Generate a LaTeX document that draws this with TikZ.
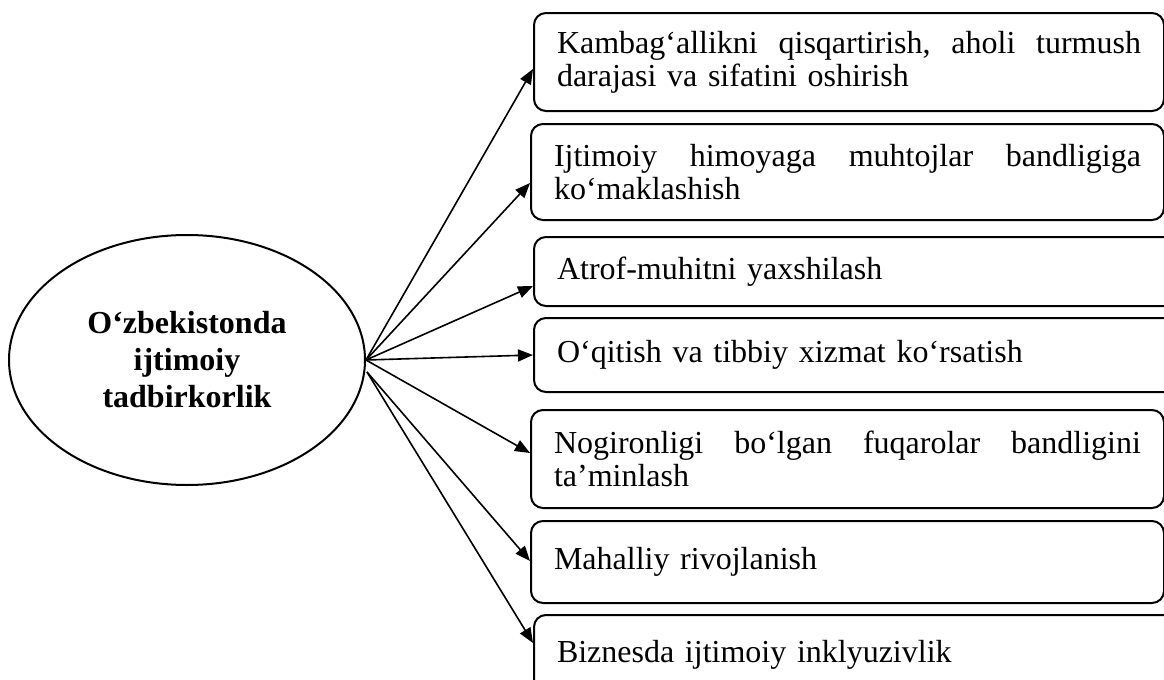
\documentclass[tikz,border=0pt]{standalone}
\usepackage{fontspec}
\setmainfont{Liberation Serif}
\usetikzlibrary{shapes.geometric,arrows.meta}
\begin{document}
\begin{tikzpicture}[x=0.5pt,y=-0.5pt,
  box/.style={draw, line width=1pt, rounded corners=6pt, anchor=north west,
    inner sep=0pt, align=left, font=\fontsize{16pt}{16.5pt}\selectfont},
  oval/.style={draw, ellipse, line width=1pt, inner sep=0pt, align=center,
    font=\bfseries\fontsize{16pt}{18.5pt}\selectfont},
  arr/.style={line width=0.8pt, -{Triangle[length=7.5pt,width=6pt]}}]
\useasboundingbox (0,0) rectangle (1164,680);

\node[oval, minimum width=178pt, minimum height=125pt] (e) at (187,360)
  {O‘zbekistonda\\ijtimoiy\\tadbirkorlik};

\node[box, minimum width=315pt, minimum height=49pt, text width=292pt] (b1) at (533,12)
  {\hbox to 292pt{Kambag‘allikni \hfill qisqartirish, \hfill aholi \hfill turmush}\\darajasi va sifatini oshirish};
\node[box, minimum width=316.5pt, minimum height=48pt, text width=293.5pt] (b2) at (530,123)
  {\hbox to 293.5pt{Ijtimoiy \hfill himoyaga \hfill muhtojlar \hfill bandligiga}\\ko‘maklashish};
\node[box, minimum width=340pt, minimum height=34.5pt, text width=317pt] (b3) at (533,236)
  {Atrof-muhitni yaxshilash};
\node[box, minimum width=340pt, minimum height=37pt, text width=317pt] (b4) at (533,317)
  {O‘qitish va tibbiy xizmat ko‘rsatish};
\node[box, minimum width=316.5pt, minimum height=49pt, text width=293.5pt] (b5) at (530,409)
  {\hbox to 293.5pt{Nogironligi \hfill bo‘lgan \hfill fuqarolar \hfill bandligini}\\ta’minlash};
\node[box, minimum width=316.5pt, minimum height=41pt, text width=293.5pt] (b6) at (530,520)
  {Mahalliy rivojlanish};
\node[box, minimum width=340pt, minimum height=40pt, text width=317pt] (b7) at (533,614)
  {Biznesda ijtimoiy inklyuzivlik};

\draw[arr] (e.east) -- ([shift={(0,7)}]b1.west);
\draw[arr] (e.east) -- ([shift={(0,11)}]b2.west);
\draw[arr] (e.east) -- ([shift={(0,14.5)}]b3.west);
\draw[arr] (e.east) -- (b4.west);
\draw[arr] (e.east) -- ([shift={(0,-6)}]b5.west);
\draw[arr] ([shift={(1,12)}]e.east) -- ([shift={(0,-1)}]b6.west);
\draw[arr] ([shift={(1,12)}]e.east) -- ([shift={(0,-12)}]b7.west);
\end{tikzpicture}
\end{document}
